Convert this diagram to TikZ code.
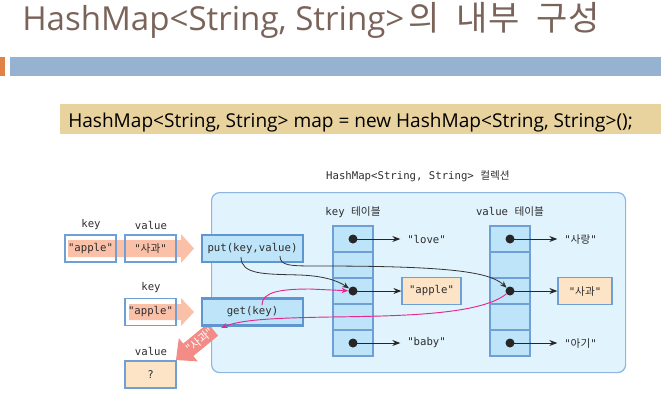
\documentclass[tikz,border=0pt]{standalone}
\usepackage{fontspec}
\setmainfont{Open Sans}
\newfontfamily\kr{Noto Sans CJK KR}
\newfontfamily\mono{DejaVu Sans Mono}
\usetikzlibrary{arrows.meta}
\definecolor{titlec}{RGB}{122,100,90}
\definecolor{barblue}{RGB}{149,179,208}
\definecolor{barorange}{RGB}{224,130,70}
\definecolor{codebg}{RGB}{232,210,158}
\definecolor{bigfill}{RGB}{225,243,253}
\definecolor{bigdraw}{RGB}{140,182,224}
\definecolor{cellfill}{RGB}{189,228,248}
\definecolor{boxc}{RGB}{110,160,214}
\definecolor{opdraw}{RGB}{95,150,210}
\definecolor{salmon}{RGB}{250,192,168}
\definecolor{redar}{RGB}{243,140,135}
\definecolor{peach}{RGB}{253,228,198}
\definecolor{txtc}{RGB}{45,45,45}
\definecolor{mag}{RGB}{230,40,140}
\tikzset{
  lbl/.style={font=\mono\fontsize{8}{10}\selectfont, text=txtc, inner sep=0pt},
  bgbox/.style={fill=white, draw=none, minimum width=38.25pt, minimum height=20.25pt, inner sep=0pt},
  wbox/.style={draw=boxc, line width=0.9pt, minimum width=38.25pt, minimum height=20.25pt, inner sep=0pt, font=\mono\fontsize{8}{10}\selectfont, text=txtc},
  opbox/.style={fill=cellfill, draw=opdraw, line width=1.6pt, minimum width=75.75pt, minimum height=20.25pt, inner sep=0pt, font=\mono\fontsize{8}{10}\selectfont, text=txtc},
  cell/.style={fill=cellfill, draw=boxc, line width=0.8pt, minimum width=30pt, minimum height=19.5pt, inner sep=0pt},
  dot/.style={circle, fill=black!85, minimum size=6.75pt, inner sep=0pt},
  ptr/.style={black!85, line width=0.75pt, -{Stealth[length=6pt,width=4.5pt]}},
  link/.style={black!80, line width=0.6pt, -{Stealth[length=5pt,width=4pt]}},
  mlink/.style={mag, line width=0.7pt, -{Stealth[length=5pt,width=4pt]}},
  valbox/.style={fill=peach, draw=boxc, line width=0.9pt, minimum height=20.25pt, inner sep=0pt, font=\mono\fontsize{8}{10}\selectfont, text=txtc}
}
\begin{document}
\begin{tikzpicture}[x=0.75pt,y=-0.75pt]
\useasboundingbox (0,0) rectangle (661,401);
% title
\node[anchor=base west, text=titlec, font=\fontsize{24.8}{30}\selectfont, inner sep=0pt] (title) at (22,30) {HashMap<String, String>\hspace{3pt}{\kr\fontsize{25.5}{30}\selectfont 의\hspace{13pt}내부\hspace{13pt}구성}};
\fill[barorange] (0,57) rectangle (5,76);
\fill[barblue] (10,57) rectangle (661,76);
% code line
\node[fill=codebg, minimum width=450.75pt, minimum height=22.5pt, anchor=north west, inner sep=0pt] (codebg) at (60,104) {};
\node[anchor=base west, font=\fontsize{14.3}{18}\selectfont, inner sep=0pt] (code) at (68,127) {HashMap<String, String> map = new HashMap<String, String>();};
% collection
\node[lbl] (cap) at (418,176) {HashMap<String, String> {\kr 컬렉션}};
\node[draw=bigdraw, fill=bigfill, line width=0.9pt, rounded corners=6pt, minimum width=310.5pt, minimum height=135pt, anchor=north west, inner sep=0pt] (coll) at (211,192) {};
% left side
\node[lbl] (klab1) at (91,225) {key};
\node[lbl] (vlab1) at (151,225) {value};
\node[bgbox] (kbg1) at (90.5,248.5) {};
\node[bgbox] (vbg1) at (150.5,248.5) {};
\fill[salmon] (68,240) -- (181,240) -- (181,234) -- (194,248.5) -- (181,263) -- (181,257) -- (68,257) -- cycle;
\node[wbox] (kbox1) at (90.5,248.5) {"apple"};
\node[wbox] (vbox1) at (150.5,248.5) {"{\kr 사과}"};
\node[lbl] (klab2) at (151,288) {key};
\node[bgbox] (kbg2) at (150.5,312) {};
\fill[salmon] (129,304) -- (181,304) -- (181,298) -- (194,312) -- (181,326) -- (181,320) -- (129,320) -- cycle;
\node[wbox] (kbox2) at (150.5,312) {"apple"};
\node[lbl] (vlab2) at (151,351) {value};
\node[valbox, minimum width=38.25pt] (qbox) at (150.5,374.5) {?};
% red return arrow
\fill[redar] (207.9,323.3) -- (183.2,343.6) -- (178.8,338.2) -- (176,360) -- (197.8,361.4) -- (193.4,356.0) -- (218.1,335.7) -- cycle;
\node[font=\kr\fontsize{8.5}{10}\selectfont, text=white, inner sep=0pt, rotate=39.5] (ret) at (200,340.5) {"사과"};
% operations
\node[opbox] (put) at (252.5,248.5) {put(key,value)};
\node[opbox] (get) at (252.5,312) {get(key)};
% tables
\node[lbl] (ktlab) at (353,212) {key {\kr 테이블}};
\node[lbl] (vtlab) at (510,212) {value {\kr 테이블}};
\foreach \i in {0,...,4} {
  \node[cell] (k\i) at (353,239+26*\i) {};
  \node[cell] (v\i) at (510,239+26*\i) {};
}
\node[dot] (kd0) at (k0) {};
\node[dot] (kd2) at (k2) {};
\node[dot] (kd4) at (k4) {};
\node[dot] (vd0) at (v0) {};
\node[dot] (vd2) at (v2) {};
\node[dot] (vd4) at (v4) {};
\node[lbl, anchor=west] (kt0) at (407,239) {"love"};
\node[valbox, minimum width=44.25pt] (kt2) at (431.5,291) {"apple"};
\node[lbl, anchor=west] (kt4) at (407,343) {"baby"};
\node[lbl, anchor=west] (vt0) at (564,239) {"{\kr 사랑}"};
\node[valbox, minimum width=40.5pt] (vt2) at (585,291) {"{\kr 사과}"};
\node[lbl, anchor=west] (vt4) at (564,343) {"{\kr 아기}"};
\draw[ptr] (kd0.center) -- ([xshift=-5pt]kt0.west);
\draw[ptr] (kd2.center) -- (kt2.west);
\draw[ptr] (kd4.center) -- ([xshift=-5pt]kt4.west);
\draw[ptr] (vd0.center) -- ([xshift=-5pt]vt0.west);
\draw[ptr] (vd2.center) -- (vt2.west);
\draw[ptr] (vd4.center) -- ([xshift=-5pt]vt4.west);
% links
\coordinate (putkey) at (241,257);
\coordinate (putval) at (280,256);
\coordinate (getkey) at (262,305);
\coordinate (getret) at (221,328);
\draw[link] (putkey) .. controls (241,275) and (265,274) .. (300,275) .. controls (325,276) and (338,281) .. (kd2);
\draw[link] (putval) .. controls (280,266) and (290,266) .. (320,266) .. controls (450,266) and (490,272) .. (vd2);
\draw[mlink] (getkey) .. controls (262,292) and (280,289) .. (310,289) -- (kd2);
\draw[mlink] (vd2) .. controls (480,315) and (400,316) .. (330,317) .. controls (270,318) and (240,320) .. (getret);
\end{tikzpicture}
\end{document}
